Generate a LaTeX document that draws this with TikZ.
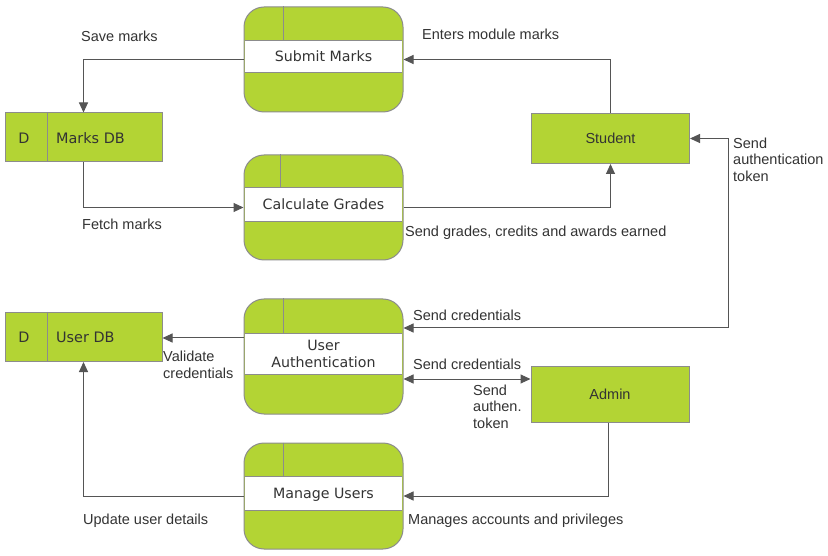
\documentclass[tikz,border=0pt]{standalone}
\usepackage{fontspec}
\setmainfont{DejaVu Sans}
\newfontfamily\arialf{Liberation Sans}
\usetikzlibrary{arrows.meta}
\definecolor{lime}{HTML}{B3D434}
\definecolor{bord}{HTML}{8C8C8C}
\definecolor{ink}{HTML}{555555}
\definecolor{txt}{HTML}{333333}
\begin{document}
\begin{tikzpicture}[x=1pt,y=-1pt,
  proc/.style={draw=bord, fill=lime, rounded corners=20pt, minimum width=159pt, inner sep=0pt, line width=1pt},
  band/.style={fill=white, minimum width=157.5pt, inner sep=0pt, font=\fontsize{14.2}{16.7}\selectfont, text=txt, align=center},
  one/.style={text height=10.5pt, text depth=0pt},
  bline/.style={draw=bord, line width=1pt},
  store/.style={draw=bord, fill=lime, minimum width=157pt, minimum height=49pt, inner sep=0pt, line width=1pt},
  stt/.style={inner sep=0pt, font=\fontsize{14.4}{17}\selectfont, text=txt, text height=10.5pt, text depth=0pt},
  ent/.style={draw=bord, fill=lime, minimum width=158pt, inner sep=0pt, line width=1pt, font=\arialf\fontsize{14.5}{17}\selectfont, text=txt, text height=10.5pt, text depth=0pt},
  lbl/.style={font=\arialf\fontsize{14.5}{16.5}\selectfont, text=txt, inner sep=0pt, align=left},
  flow/.style={draw=ink, line width=1pt, -{Triangle[length=10pt,width=9pt]}},
  biflow/.style={draw=ink, line width=1pt, {Triangle[length=10pt,width=9pt]}-{Triangle[length=10pt,width=9pt]}}
]
\path[use as bounding box, fill=white] (0,0) rectangle (828,556);

% Processes
\node[proc, minimum height=105pt] (sm) at (323.5,59.5) {};
\node[band, one, minimum height=31pt] (smb) at (323.5,56.5) {Submit Marks};
\draw[bline] (smb.north west) -- (smb.north east) (smb.south west) -- (smb.south east);
\coordinate (smd) at ([xshift=40pt]sm.north west);
\draw[bline] (smd) -- (smd |- smb.north);

\node[proc, minimum height=105pt] (cg) at (323.5,207.5) {};
\node[band, one, minimum height=33pt] (cgb) at (323.5,204.5) {Calculate Grades};
\draw[bline] (cgb.north west) -- (cgb.north east) (cgb.south west) -- (cgb.south east);
\coordinate (cgd) at ([xshift=37pt]cg.north west);
\draw[bline] (cgd) -- (cgd |- cgb.north);

\node[proc, minimum height=115pt] (ua) at (323.5,356.5) {};
\node[band, minimum height=40pt] (uab) at (323.5,354) {User\\Authentication};
\draw[bline] (uab.north west) -- (uab.north east) (uab.south west) -- (uab.south east);
\coordinate (uad) at ([xshift=40pt]ua.north west);
\draw[bline] (uad) -- (uad |- uab.north);

\node[proc, minimum height=106pt] (mu) at (323.5,496) {};
\node[band, one, minimum height=33pt] (mub) at (323.5,493.5) {Manage Users};
\draw[bline] (mub.north west) -- (mub.north east) (mub.south west) -- (mub.south east);
\coordinate (mud) at ([xshift=40pt]mu.north west);
\draw[bline] (mud) -- (mud |- mub.north);

% Data stores
\node[store] (mdb) at (83.5,137.5) {};
\draw[bline] ([xshift=43pt]mdb.north west) -- ([xshift=43pt]mdb.south west);
\node[stt] (mdbd) at (24,138) {D};
\node[stt, anchor=west] (mdbt) at (56,138) {Marks DB};

\node[store] (udb) at (83.5,337) {};
\draw[bline] ([xshift=43pt]udb.north west) -- ([xshift=43pt]udb.south west);
\node[stt] (udbd) at (24,337.5) {D};
\node[stt, anchor=west] (udbt) at (56,337.5) {User DB};

% Entities
\node[ent, minimum height=50pt] (stu) at (610.5,138.5) {Student};
\node[ent, minimum height=56pt] (adm) at (610,394) {Admin};

% Connectors
\draw[flow] (sm.west) -| (mdb.north);
\draw[flow] (stu.north) |- (sm.east);
\draw[flow] (mdb.south) |- (cg.west);
\draw[flow] (cg.east) -| (stu.south);
\coordinate (uac) at ([yshift=28.5pt]ua.east);
\coordinate (tk) at (728,138.5);
\draw[biflow] (uac) -| (tk) -- (stu.east);
\coordinate (uaa) at ([yshift=-22.5pt]ua.east);
\coordinate (ada) at ([yshift=15pt]adm.west);
\draw[biflow] (uaa) -- (ada);
\coordinate (uav) at ([yshift=18.5pt]ua.west);
\draw[flow] (uav) -- (uav -| udb.east);
\draw[flow] (mu.west) -| (udb.south);
\coordinate (adb) at ([xshift=-2pt]adm.south);
\draw[flow] (adb) |- (mu.east);

% Labels
\node[lbl, anchor=base west] (l1) at (81,42) {Save marks};
\node[lbl, anchor=base west] (l2) at (422,39.5) {Enters module marks};
\node[lbl, anchor=base west] (l3) at (82,230) {Fetch marks};
\node[lbl, anchor=base west] (l4) at (405,237) {Send grades, credits and awards earned};
\node[lbl, anchor=north west] (l5) at (733,137.6) {Send\\authentication\\token};
\node[lbl, anchor=base west] (l6) at (413,321) {Send credentials};
\node[lbl, anchor=base west] (l7) at (413,370) {Send credentials};
\node[lbl, anchor=north west] (l8) at (473,384.6) {Send\\authen.\\token};
\node[lbl, anchor=north west] (l9) at (163,351) {Validate\\credentials};
\node[lbl, anchor=base west] (l10) at (83,524.5) {Update user details};
\node[lbl, anchor=base west] (l11) at (408,524.5) {Manages accounts and privileges};
\end{tikzpicture}
\end{document}
